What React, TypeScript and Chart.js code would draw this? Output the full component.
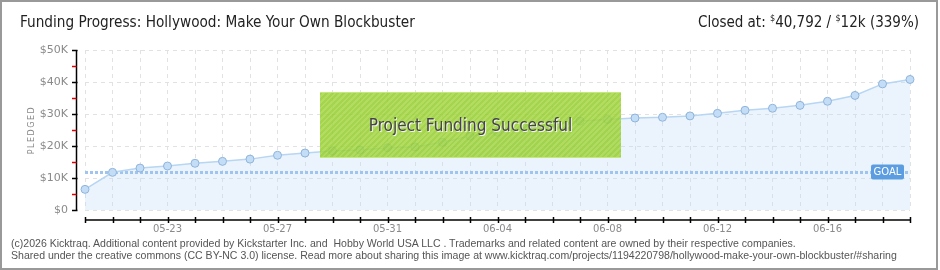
import React, { useEffect, useRef } from 'react';
import { Chart, registerables } from 'chart.js';

Chart.register(...registerables);

const DATES = [
  '05-20', '05-21', '05-22', '05-23', '05-24', '05-25', '05-26', '05-27', '05-28', '05-29', '05-30', '05-31',
  '06-01', '06-02', '06-03', '06-04', '06-05', '06-06', '06-07', '06-08', '06-09', '06-10', '06-11', '06-12',
  '06-13', '06-14', '06-15', '06-16', '06-17', '06-18', '06-19',
];
const PLEDGED = [
  6450, 11770, 13100, 13750, 14600, 15200, 15900, 17100, 17800, 18440, 18750, 19470,
  19700, 21150, 23100, 24300, 25500, 26700, 27800, 28300, 28750, 28970, 29400, 30200,
  31160, 31800, 32700, 33970, 35800, 39400, 40792,
];
const GOAL = 12000;
const Y_TICKS = [0, 10000, 20000, 30000, 40000, 50000];
const Y_MINOR = [5000, 15000, 25000, 35000, 45000];
const X_LABELS = ['05-23', '05-27', '05-31', '06-04', '06-08', '06-12', '06-16'];

const decor = {
  id: 'decor',
  beforeDatasetDraw(chart: any) {
    const { ctx, chartArea, scales } = chart;
    const y = Math.round(scales.y.getPixelForValue(GOAL)) + 0.5;
    ctx.save();
    ctx.strokeStyle = '#9fc5ee';
    ctx.lineWidth = 3;
    ctx.setLineDash([3, 2]);
    ctx.beginPath();
    ctx.moveTo(chartArea.left, y);
    ctx.lineTo(chartArea.right, y);
    ctx.stroke();
    ctx.restore();
  },
  afterDraw(chart: any) {
    const { ctx, chartArea, scales } = chart;
    const xs = scales.x;
    const ys = scales.y;
    ctx.save();
    // y axis
    const ax = chartArea.left - 8.5;
    ctx.strokeStyle = '#000';
    ctx.lineWidth = 1.5;
    ctx.beginPath();
    ctx.moveTo(ax, chartArea.top);
    ctx.lineTo(ax, chartArea.bottom);
    ctx.stroke();
    Y_TICKS.forEach((v) => {
      const py = Math.round(ys.getPixelForValue(v)) + 0.5;
      ctx.beginPath();
      ctx.moveTo(ax - 4.5, py);
      ctx.lineTo(ax + 1, py);
      ctx.stroke();
    });
    ctx.strokeStyle = '#e00000';
    Y_MINOR.forEach((v) => {
      const py = Math.round(ys.getPixelForValue(v)) + 0.5;
      ctx.beginPath();
      ctx.moveTo(ax - 4.5, py);
      ctx.lineTo(ax, py);
      ctx.stroke();
    });
    // x axis
    const ay = chartArea.bottom + 10;
    ctx.strokeStyle = '#000';
    ctx.beginPath();
    ctx.moveTo(chartArea.left, ay);
    ctx.lineTo(chartArea.right, ay);
    ctx.stroke();
    DATES.forEach((_, i) => {
      const px = Math.round(xs.getPixelForValue(i)) + 0.5;
      ctx.beginPath();
      ctx.moveTo(px, ay - 3);
      ctx.lineTo(px, ay + 3);
      ctx.stroke();
    });
    // goal label
    const gy = ys.getPixelForValue(GOAL);
    const bx = chartArea.right - 39;
    const bw = 33;
    const bh = 15;
    const by = gy - 7;
    ctx.fillStyle = '#5b9de0';
    ctx.beginPath();
    (ctx as any).roundRect(bx, by, bw, bh, 2);
    ctx.fill();
    ctx.fillStyle = '#fff';
    ctx.font = '10px "DejaVu Sans"';
    ctx.textAlign = 'center';
    ctx.textBaseline = 'middle';
    ctx.fillText('GOAL', bx + bw / 2, by + bh / 2 + 0.5);
    ctx.restore();
  },
};

export default function App() {
  const ref = useRef<HTMLCanvasElement>(null);
  useEffect(() => {
    if (!ref.current) return;
    const chart = new Chart(ref.current, {
      type: 'line',
      data: {
        labels: DATES,
        datasets: [
          {
            data: PLEDGED,
            fill: 'origin',
            backgroundColor: 'rgba(190,220,250,0.3)',
            borderColor: '#b7d6f3',
            borderWidth: 1.5,
            pointRadius: 4,
            pointBackgroundColor: '#c4ddf7',
            pointBorderColor: '#8fb4da',
            pointBorderWidth: 1,
            tension: 0,
          },
        ],
      },
      options: {
        animation: false,
        responsive: false,
        devicePixelRatio: 1,
        layout: { padding: { top: 50, right: 30, left: 0, bottom: 0 } },
        plugins: { legend: { display: false }, tooltip: { enabled: false } },
        scales: {
          x: {
            type: 'category',
            offset: false,
            grid: { color: '#e2e2e2', drawTicks: false },
            border: { display: false, dash: [4, 4] },
            ticks: {
              autoSkip: false,
              maxRotation: 0,
              padding: 13,
              color: '#8a8a8a',
              font: { family: '"DejaVu Sans"', size: 10 },
              callback: (_v: any, i: number) => (X_LABELS.includes(DATES[i]) ? DATES[i] : ''),
            },
            afterFit: (s: any) => {
              s.height = 60;
            },
          },
          y: {
            min: 0,
            max: 50000,
            afterBuildTicks: (s: any) => {
              s.ticks = Y_TICKS.map((v) => ({ value: v }));
            },
            grid: { color: '#e2e2e2', drawTicks: false },
            border: { display: false, dash: [4, 4] },
            ticks: {
              padding: 17,
              color: '#8a8a8a',
              font: { family: '"DejaVu Sans"', size: 11 },
              callback: (v: any) => (v === 0 ? '$0' : '$' + v / 1000 + 'K'),
            },
            afterFit: (s: any) => {
              s.width = 85;
            },
          },
        },
      },
      plugins: [decor],
    });
    return () => chart.destroy();
  }, []);

  return (
    <div style={{ position: 'relative', width: 940, height: 270, overflow: 'hidden', background: '#fff' }}>
      <style>{'body{margin:0}'}</style>
      <canvas ref={ref} width={940} height={270} style={{ position: 'absolute', left: 0, top: 0 }} />
      <div
        style={{
          position: 'absolute', left: 0, top: 0, width: 938, height: 270, boxSizing: 'border-box',
          border: '2px solid #999', pointerEvents: 'none',
        }}
      />
      <div
        style={{
          position: 'absolute', left: 20, top: 13, fontFamily: '"DejaVu Sans Condensed", "DejaVu Sans", sans-serif',
          fontSize: 15.2, color: '#222', whiteSpace: 'nowrap',
        }}
      >
        Funding Progress: Hollywood: Make Your Own Blockbuster
      </div>
      <div
        style={{
          position: 'absolute', right: 21, top: 13, fontFamily: '"DejaVu Sans Condensed", "DejaVu Sans", sans-serif',
          fontSize: 15, color: '#222', whiteSpace: 'nowrap',
        }}
      >
        Closed at: <sup style={{ fontSize: 9 }}>$</sup>40,792 / <sup style={{ fontSize: 9 }}>$</sup>12k (339%)
      </div>
      <div
        style={{
          position: 'absolute', left: 31, top: 130, transform: 'translate(-50%, -50%) rotate(-90deg)',
          fontFamily: '"DejaVu Sans", sans-serif', fontSize: 8, letterSpacing: 1.5, color: '#888', whiteSpace: 'nowrap',
        }}
      >
        PLEDGED
      </div>
      <div
        style={{
          position: 'absolute', left: 320, top: 92, width: 301, height: 66, boxSizing: 'border-box',
          background: 'repeating-linear-gradient(135deg, rgba(150,205,50,0.86) 0px, rgba(150,205,50,0.86) 2px, rgba(165,215,70,0.86) 2px, rgba(165,215,70,0.86) 4px)',
          borderTop: '1px solid #c4e77e', borderBottom: '1px solid #c4e77e',
          display: 'flex', alignItems: 'center', justifyContent: 'center',
          fontFamily: '"DejaVu Sans Condensed", "DejaVu Sans", sans-serif', fontSize: 17, color: '#454545',
          textShadow: '1px 1px 0 #f4f4f4', whiteSpace: 'nowrap',
        }}
      >
        Project Funding Successful
      </div>
      <div
        style={{
          position: 'absolute', left: 11, top: 238, fontFamily: '"Liberation Sans", sans-serif', fontSize: 10.55,
          lineHeight: '11.5px', color: '#555', whiteSpace: 'pre',
        }}
      >
        {'(c)2026 Kicktraq. Additional content provided by Kickstarter Inc. and  Hobby World USA LLC . Trademarks and related content are owned by their respective companies.\nShared under the creative commons (CC BY-NC 3.0) license. Read more about sharing this image at www.kicktraq.com/projects/1194220798/hollywood-make-your-own-blockbuster/#sharing'}
      </div>
    </div>
  );
}
